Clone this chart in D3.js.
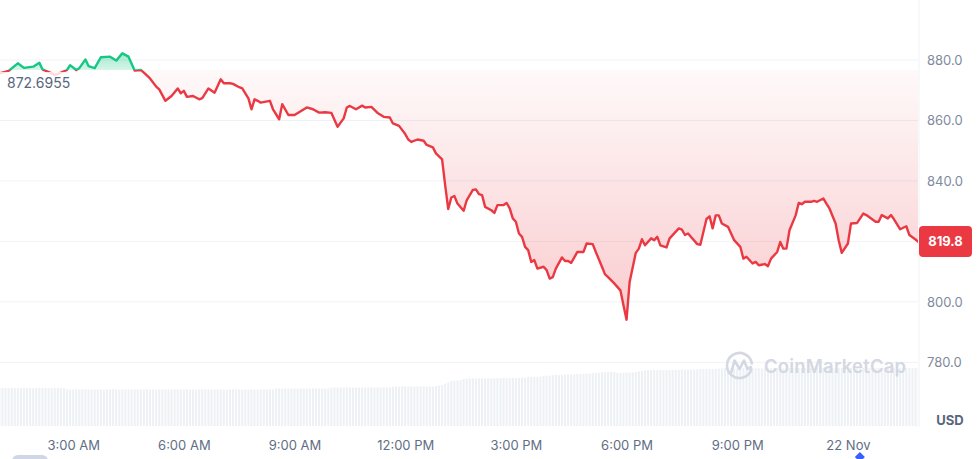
<!DOCTYPE html>
<html>
<head>
<meta charset="utf-8">
<script src="https://cdn.jsdelivr.net/npm/d3@7/dist/d3.min.js"></script>
<style>
  html, body { margin: 0; padding: 0; background: #fff; }
  svg { display: block; font-family: Inter, "Noto Sans", sans-serif; }
</style>
</head>
<body>
<svg id="chart" width="978" height="459"></svg>
<script>
// ---- data ----
// price points: minutes since 00:00 on 21 Nov
const timeMin = [60,75,90,100,115,125,130,145,150,160,170,175,185,190,200,205,215,225,240,250,260,270,280,290,295,305,315,320,330,340,350,355,360,365,375,385,390,400,410,420,425,435,440,450,455,465,470,475,480,485,500,505,515,520,530,540,560,570,580,590,600,610,620,625,630,640,650,655,665,675,685,695,700,710,720,725,730,740,750,755,765,770,780,785,790,795,800,805,815,820,830,835,840,845,850,860,865,870,880,885,890,895,900,905,910,915,920,925,930,935,945,950,955,960,965,975,980,985,990,1000,1010,1015,1025,1030,1040,1045,1050,1060,1070,1075,1080,1085,1095,1100,1105,1110,1120,1125,1130,1135,1145,1150,1165,1170,1175,1180,1195,1200,1210,1215,1220,1225,1230,1235,1245,1255,1265,1270,1275,1285,1290,1295,1305,1310,1315,1325,1330,1335,1340,1345,1355,1360,1365,1370,1380,1385,1390,1400,1405,1410,1420,1425,1430,1440,1445,1455,1465,1470,1485,1490,1495,1505,1510,1515,1525,1535,1540,1550,1555];
const prices = [875.6,876.4,878.9,877.4,877.8,879.1,876.9,875.6,875.0,875.8,876.7,878.3,876.7,877.3,880.2,878.0,877.3,880.9,881.1,879.8,882.2,881.1,876.5,876.7,875.8,873.9,871.2,870.3,866.5,868.1,870.6,869.0,869.8,867.8,868.1,867.0,867.4,870.6,869.2,873.6,872.3,872.3,872.1,871.0,870.6,867.3,863.7,867.0,866.5,865.9,866.5,863.7,860.4,865.4,861.8,861.8,864.3,863.7,862.6,862.7,862.5,857.9,860.7,864.3,864.8,863.7,864.9,864.3,864.5,862.5,861.2,861.0,859.0,858.2,855.5,853.7,852.9,853.7,853.3,851.9,851.1,849.1,847.1,838.6,830.7,834.5,835.0,832.5,830.1,833.6,837.0,837.2,835.6,835.3,831.4,830.3,829.4,832.0,832.0,832.7,830.9,827.6,826.5,822.6,821.5,818.2,817.1,813.2,813.8,811.0,811.6,810.5,807.7,808.2,811.0,814.7,813.5,813.5,812.9,816.5,816.5,819.3,819.1,816.5,811.6,809.1,808.2,806.1,803.8,798.9,794.1,806.6,816.2,817.6,820.7,818.7,821.0,820.4,821.5,818.7,818.0,821.0,824.3,823.9,822.1,822.6,819.1,818.9,827.4,828.3,824.3,828.6,828.6,825.9,824.8,820.4,818.2,814.3,814.9,812.7,813.2,812.1,812.5,811.8,814.3,816.5,819.8,817.6,817.6,823.7,828.6,832.7,832.3,833.1,833.1,833.4,833.1,834.2,832.5,830.9,825.9,820.4,816.2,819.3,825.9,826.1,829.2,828.7,826.5,826.5,828.7,827.6,828.7,827.3,824.0,825.0,822.1,820.6,819.8];

// volume (millions), one bar per 5 minutes starting 01:00 on 21 Nov
const volumes = [
19.0,19.1,18.9,19.0,19.1,19.0,18.9,19.0,19.1,19.0,19.0,18.9,19.0,19.1,19.0,18.9,19.0,19.0,19.1,19.0,18.9,19.0,
18.3,18.2,18.3,18.3,18.2,18.3,18.4,18.3,18.2,18.3,18.3,18.3,18.2,18.3,18.3,18.4,18.3,18.2,18.3,18.3,
18.2,18.3,18.3,18.3,18.2,18.3,18.4,18.3,18.3,18.2,18.3,18.3,18.2,18.3,18.3,18.3,18.4,18.3,18.2,18.3,
18.3,18.3,18.2,18.3,18.3,18.4,18.3,18.3,18.2,18.3,18.3,18.3,18.2,18.3,18.4,18.3,18.3,18.2,18.3,18.3,
18.3,18.2,18.3,18.3,18.4,18.3,18.3,18.3,
18.7,18.8,18.7,18.8,18.7,18.8,18.8,18.7,18.8,18.7,18.8,18.7,18.8,18.8,18.7,18.8,18.7,18.8,
19.2,19.3,19.2,19.3,19.2,19.3,19.3,19.2,19.3,19.2,19.3,19.2,19.3,19.3,19.2,19.3,19.2,19.3,19.3,19.2,
19.7,19.8,19.7,19.8,19.8,19.7,19.8,19.7,19.8,19.7,19.8,19.8,19.7,19.8,20.0,20.2,
20.5,21.2,21.8,22.5,22.6,22.8,23.0,
23.6,23.7,23.8,23.8,23.7,23.8,23.9,23.8,23.8,23.9,23.8,23.9,23.9,24.0,23.9,24.0,24.1,24.0,24.1,24.2,24.2,
24.5,24.6,24.6,24.7,24.7,
25.0,25.2,25.3,25.4,25.5,25.5,25.6,25.7,25.8,25.8,25.9,26.0,26.1,26.1,26.2,26.3,26.4,26.5,26.6,
26.8,26.9,27.0,27.1,27.0,
26.6,26.5,26.5,26.6,26.7,26.8,27.0,27.3,
27.6,27.8,27.9,28.0,28.0,27.9,28.0,28.1,28.0,28.0,28.1,28.0,28.1,28.2,28.1,28.2,28.3,28.2,28.3,28.4,
28.5,28.5,28.6,28.5,28.6,28.7,
28.8,28.9,28.8,28.9,28.8,28.8,28.9,28.9,28.8,28.9,28.8,28.9,28.9,28.8,28.9,28.9,28.8,28.9,28.9,28.9,28.8,28.9,28.9,29.0,28.9,29.0,
29.0,29.0,28.9,29.0,29.0,29.1,29.0,29.0,28.9,29.0,29.0,29.0,29.1,29.0,29.0,28.9,29.0,29.0,29.0,29.1,
29.0,29.0,28.9,29.0,29.0,29.0,29.1,29.0,29.0,28.9,29.0,29.0,29.0,29.1,29.0,29.0,28.9,29.0,29.0
];

const baselineValue = 876.7;        // reference (open) level where colour switches
const baselineLabel = "872.6955";
const lastPriceLabel = "819.8";
const yTicks = [780, 800, 820, 840, 860, 880];
const xTickMinutes = [180, 360, 540, 720, 900, 1080, 1260, 1440];
const xTickLabels = ["3:00 AM", "6:00 AM", "9:00 AM", "12:00 PM", "3:00 PM", "6:00 PM", "9:00 PM", "22 Nov"];
const currency = "USD";

// ---- helpers ----
const day0 = new Date(2024, 10, 21, 0, 0, 0);
const toDate = m => new Date(day0.getTime() + m * 60000);
const series = timeMin.map((m, i) => ({ t: toDate(m), v: prices[i] }));
const volSeries = volumes.map((v, i) => ({ t: toDate(60 + i * 5), v }));

const W = 978, H = 459;
const plotRight = 918;
const svg = d3.select("#chart");

const x = d3.scaleTime()
  .domain([toDate(61), toDate(1554)])
  .range([0, plotRight]);
const y = d3.scaleLinear().domain([780, 880]).range([362.3, 60]);
const yVol = d3.scaleLinear().domain([0, 30]).range([426, 366]);

const red = "#ea3943", green = "#16c784";
const yBase = y(baselineValue);

// defs
const defs = svg.append("defs");
defs.append("clipPath").attr("id", "plotClip")
  .append("rect").attr("x", 0).attr("y", 0).attr("width", plotRight).attr("height", H);
defs.append("clipPath").attr("id", "aboveClip")
  .append("rect").attr("x", 0).attr("y", 0).attr("width", plotRight).attr("height", yBase);
defs.append("clipPath").attr("id", "belowClip")
  .append("rect").attr("x", 0).attr("y", yBase).attr("width", plotRight).attr("height", H - yBase);

const gRed = defs.append("linearGradient").attr("id", "redFill")
  .attr("gradientUnits", "userSpaceOnUse").attr("x1", 0).attr("x2", 0)
  .attr("y1", yBase).attr("y2", y(794));
gRed.append("stop").attr("offset", 0).attr("stop-color", red).attr("stop-opacity", 0.03);
gRed.append("stop").attr("offset", 1).attr("stop-color", red).attr("stop-opacity", 0.26);

const gGreen = defs.append("linearGradient").attr("id", "greenFill")
  .attr("gradientUnits", "userSpaceOnUse").attr("x1", 0).attr("x2", 0)
  .attr("y1", y(883)).attr("y2", yBase);
gGreen.append("stop").attr("offset", 0).attr("stop-color", green).attr("stop-opacity", 0.42);
gGreen.append("stop").attr("offset", 1).attr("stop-color", green).attr("stop-opacity", 0.18);

// gridlines
svg.append("g").selectAll("line").data(yTicks).join("line")
  .attr("x1", 0).attr("x2", plotRight)
  .attr("y1", d => y(d)).attr("y2", d => y(d))
  .attr("stroke", "#eff2f5").attr("stroke-width", 1);

// right separator
svg.append("line").attr("x1", plotRight + 1).attr("x2", plotRight + 1)
  .attr("y1", 0).attr("y2", 427).attr("stroke", "#eff2f5").attr("stroke-width", 1);

// volume bars
svg.append("g").attr("clip-path", "url(#plotClip)")
  .selectAll("rect").data(volSeries).join("rect")
  .attr("x", d => x(d.t) - 1)
  .attr("width", 2)
  .attr("y", d => yVol(d.v))
  .attr("height", d => yVol(0) - yVol(d.v))
  .attr("fill", "#edf0f4");

// watermark
const wm = svg.append("g").attr("fill", "none").attr("stroke", "#d3d8e2").attr("stroke-width", 2.6)
  .attr("stroke-linecap", "round").attr("stroke-linejoin", "round");
const circ = d3.path();
circ.arc(739.5, 365.5, 12.5, 0.1 * Math.PI, 1.95 * Math.PI);
wm.append("path").attr("d", circ.toString());
wm.append("path").attr("d", "M731.5,372 L734.5,360.5 L739.5,369 L744,360.5 L747.5,369 L751,367");
svg.append("text").attr("x", 764).attr("y", 372.5)
  .attr("font-size", 18.5).attr("font-weight", 600).attr("fill", "#d3d8e2")
  .attr("letter-spacing", 0.2)
  .text("CoinMarketCap");

// areas and lines
const area = d3.area().x(d => x(d.t)).y0(yBase).y1(d => y(d.v));
const line = d3.line().x(d => x(d.t)).y(d => y(d.v));

svg.append("path").datum(series).attr("d", area)
  .attr("fill", "url(#redFill)").attr("clip-path", "url(#belowClip)");
svg.append("path").datum(series).attr("d", area)
  .attr("fill", "url(#greenFill)").attr("clip-path", "url(#aboveClip)");
svg.append("path").datum(series).attr("d", line)
  .attr("fill", "none").attr("stroke", red).attr("stroke-width", 2.4)
  .attr("stroke-linejoin", "round").attr("clip-path", "url(#belowClip)");
svg.append("path").datum(series).attr("d", line)
  .attr("fill", "none").attr("stroke", green).attr("stroke-width", 2.4)
  .attr("stroke-linejoin", "round").attr("clip-path", "url(#aboveClip)");

// baseline label with translucent background
svg.append("rect").attr("x", 0).attr("y", yBase + 2).attr("width", 73).attr("height", 24)
  .attr("fill", "#fff").attr("fill-opacity", 0.82);
svg.append("text").attr("x", 7).attr("y", yBase + 18.5)
  .attr("font-size", 14).attr("fill", "#58667e")
  .text(baselineLabel);

// y axis (right)
const yAxis = d3.axisRight(y).tickValues(yTicks).tickFormat(d3.format(".1f"))
  .tickSize(0).tickPadding(8);
const gy = svg.append("g").attr("transform", `translate(${plotRight + 1},0)`).call(yAxis);
gy.select(".domain").remove();
gy.selectAll("text").attr("font-size", 13).attr("fill", "#808a9d")
  .attr("font-family", "Inter, 'Noto Sans', sans-serif");

// x axis
const xAxis = d3.axisBottom(x).tickValues(xTickMinutes.map(toDate))
  .tickFormat((d, i) => xTickLabels[i]).tickSize(0).tickPadding(8);
const gx = svg.append("g").attr("transform", "translate(0,433)").call(xAxis);
gx.select(".domain").remove();
gx.selectAll("text").attr("font-size", 13).attr("fill", "#616e85")
  .attr("font-family", "Inter, 'Noto Sans', sans-serif");

// USD label
svg.append("text").attr("x", 950).attr("y", 425).attr("text-anchor", "middle")
  .attr("font-size", 13).attr("font-weight", 700).attr("fill", "#58667e")
  .text(currency);

// last price tag
const lastY = y(prices[prices.length - 1]);
svg.append("rect").attr("x", plotRight + 1).attr("y", lastY - 16).attr("width", 53).attr("height", 31)
  .attr("rx", 4).attr("fill", red);
svg.append("text").attr("x", plotRight + 27.5).attr("y", lastY + 4.5).attr("text-anchor", "middle")
  .attr("font-size", 13).attr("font-weight", 700).attr("fill", "#fff")
  .text(lastPriceLabel);

// bottom decorations (cut-off controls)
svg.append("rect").attr("x", 12).attr("y", 455).attr("width", 36).attr("height", 12)
  .attr("rx", 6).attr("fill", "#cfd6e4");
svg.append("path").attr("d", `M${x(toDate(1440)) + 12},452 l5,5 l-5,5 l-5,-5 Z`).attr("fill", "#3861fb");
</script>
</body>
</html>
